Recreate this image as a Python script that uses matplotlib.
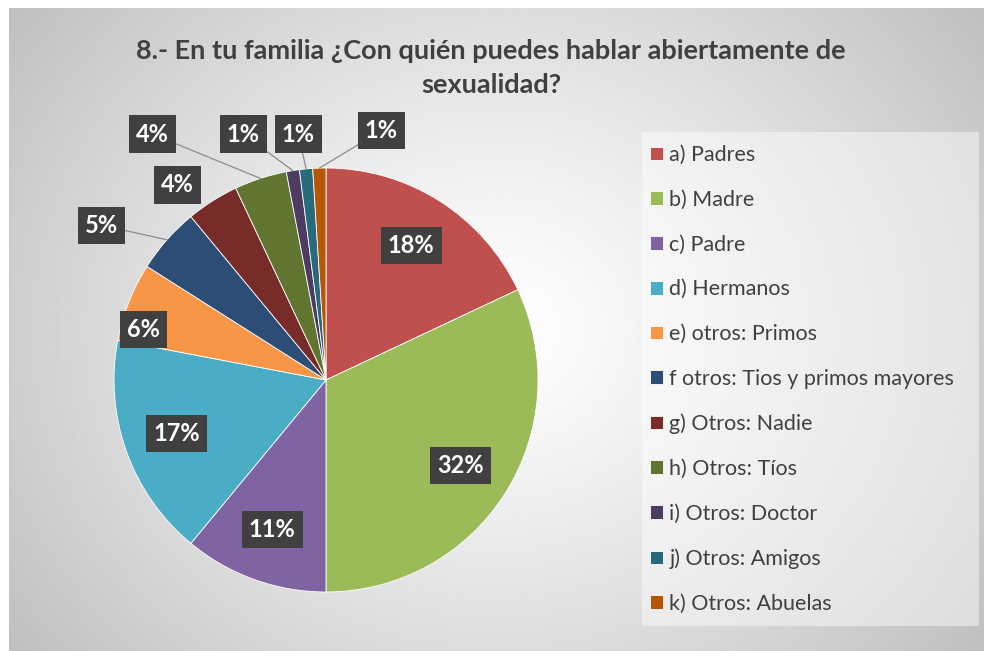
import numpy as np
import matplotlib.pyplot as plt
from matplotlib.patches import Rectangle

plt.rcParams['font.family'] = ['Lato', 'DejaVu Sans']

categories = ['a) Padres', 'b) Madre', 'c) Padre', 'd) Hermanos', 'e) otros: Primos',
              'f otros: Tios y primos mayores', 'g) Otros: Nadie', 'h) Otros: Tíos',
              'i) Otros: Doctor', 'j) Otros: Amigos', 'k) Otros: Abuelas']
values = [18, 32, 11, 17, 6, 5, 4, 4, 1, 1, 1]
colors = ['#C0504D', '#9BBB59', '#8064A2', '#4BACC6', '#F79646', '#2C4D75',
          '#772C2A', '#5F7530', '#4D3B62', '#276A7C', '#B65708']
title = '8.- En tu familia ¿Con quién puedes hablar abiertamente de\nsexualidad?'

# label placement: None = inside at r=0.75, otherwise (x, y) outside in pie units
label_pos = [None, None, None, None, (-0.86, 0.24), (-1.06, 0.73), (-0.70, 0.92),
             (-0.82, 1.16), (-0.39, 1.16), (-0.13, 1.16), (0.26, 1.175)]
leaders = [False, False, False, False, False, True, False, True, True, True, True]

W, H = 984, 651
fig = plt.figure(figsize=(W / 100, H / 100), dpi=100)

# radial gradient background
bg = fig.add_axes([9 / W, 0, 1 - 9 / W, 1 - 8 / H])
yy, xx = np.mgrid[-1:1:300j, -1:1:450j]
rr = np.sqrt(xx ** 2 + (yy * 0.75) ** 2) / np.sqrt(1 + 0.75 ** 2)
shade = 1 - 0.25 * rr ** 1.2
bg.imshow(shade, cmap='gray', vmin=0, vmax=1, aspect='auto', extent=(0, 1, 0, 1))
bg.set_axis_off()

# legend panel
fig.patches.append(Rectangle((642 / W, 1 - 626 / H), 337 / W, 494 / H,
                             transform=fig.transFigure, facecolor='white',
                             alpha=0.45, edgecolor='none', zorder=1))

cx, cy, r = 326, 380, 212
ax = fig.add_axes([(cx - r) / W, (H - cy - r) / H, 2 * r / W, 2 * r / H])
wedges, _ = ax.pie(values, colors=colors, startangle=90, counterclock=False,
                   wedgeprops=dict(edgecolor='white', linewidth=0.6))
ax.set_xlim(-1, 1)
ax.set_ylim(-1, 1)
ax.set_aspect('equal')
ax.set_axis_off()

box = dict(boxstyle='square,pad=0.3', facecolor='#404040', edgecolor='none')
total = sum(values)
start = 0
for i, v in enumerate(values):
    mid = np.deg2rad(90 - 360 * (start + v / 2) / total)
    start += v
    if label_pos[i] is None:
        tx, ty = 0.75 * np.cos(mid), 0.75 * np.sin(mid)
    else:
        tx, ty = label_pos[i]
    if leaders[i]:
        ex, ey = np.cos(mid), np.sin(mid)
        ax.plot([ex, tx], [ey, ty], color='#8c8c8c', lw=0.9, zorder=2, clip_on=False)
    ax.text(tx, ty, f'{v}%', ha='center', va='center', color='white', fontsize=17,
            fontweight='bold', bbox=box, zorder=3, clip_on=False)

fig.text(491 / W, 1 - 68 / H, title, ha='center', va='center', fontsize=19.5,
         fontweight='bold', color='#404040', linespacing=1.5)

leg = fig.legend(wedges, categories, loc='upper left', bbox_to_anchor=(650 / W, 1 - 145 / H),
                 fontsize=15.5, frameon=False, labelspacing=1.15,
                 handlelength=0.6, handleheight=0.6, handletextpad=0.3,
                 borderpad=0, borderaxespad=0)
for t in leg.get_texts():
    t.set_color('#404040')

fig.savefig('out.png', dpi=100)
